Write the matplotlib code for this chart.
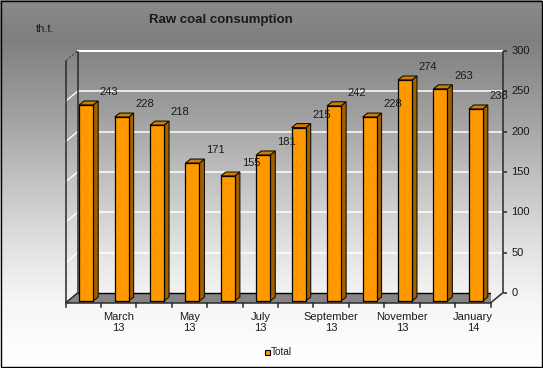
import matplotlib

matplotlib.use("Agg")
import matplotlib.pyplot as plt
import numpy as np
from matplotlib.patches import Polygon, Rectangle

months = ["February", "March", "April", "May", "June", "July", "August",
          "September", "October", "November", "December", "January"]
years = ["13", "13", "13", "13", "13", "13", "13", "13", "13", "13", "13", "14"]
total = [243, 228, 218, 171, 155, 181, 215, 242, 228, 274, 263, 238]
y_ticks = [0, 50, 100, 150, 200, 250, 300]

plt.rcParams["font.family"] = ["Liberation Sans", "DejaVu Sans"]
plt.rcParams["hatch.linewidth"] = 0.3
TEXT = "#1a1a1a"
AXIS = "#2a2a2a"

fig = plt.figure(figsize=(5.43, 3.68), dpi=100)
W, H = 543, 368

# background gradient with a light ordered dither
bg = fig.add_axes([0, 0, 1, 1], zorder=0)
levels = np.interp(np.arange(H), [0, 40, 110, 180, 250, 300, 345, 367],
                   [0.54, 0.50, 0.62, 0.76, 0.89, 0.96, 0.99, 1.0])
bayer = np.array([[0, 8, 2, 10], [12, 4, 14, 6], [3, 11, 1, 9], [15, 7, 13, 5]]) / 16 - 0.5
pattern = np.tile(bayer, (H // 4 + 1, W // 4 + 1))[:H, :W]
image = np.clip(levels[:, None] + 0.035 * pattern, 0, 1)
bg.imshow(image, cmap="gray", vmin=0, vmax=1, aspect="auto", extent=[0, W, H, 0],
          interpolation="nearest")
bg.axis("off")

# front plane of the chart box: x 65.5-490.5, y 303-61 in pixels
ax = fig.add_axes([65.5 / W, (H - 303) / H, 425 / W, 242 / H], zorder=1)
ax.patch.set_alpha(0)
ax.set_xlim(0.5, 12.5)
ax.set_ylim(0, 300)
for s in ax.spines.values():
    s.set_visible(False)
ax.set_xticks([])
ax.set_yticks([])

px = 12 / 425
py = 300 / 242
depth_x = 12 * px
depth_y = 10 * py
x0, x1 = 0.5, 12.5

# floor
ax.add_patch(Polygon([(x0, 0), (x1, 0), (x1 + depth_x, depth_y), (x0 + depth_x, depth_y)],
                     fc="#858585", ec="none", zorder=1))

# grid on back and left walls
for v in y_ticks[1:]:
    lw = 1.5 if v == 300 else 1.1
    ax.plot([x0 + depth_x, x1 + depth_x], [v + depth_y, v + depth_y], color="white",
            lw=lw, clip_on=False, zorder=2)
    if v < 300:
        ax.plot([x0, x0 + depth_x], [v, v + depth_y], color="white", lw=1.0,
                clip_on=False, zorder=2)

# box lines
line = dict(color=AXIS, lw=1.1, clip_on=False, zorder=3, solid_capstyle="butt")
ax.plot([x0, x0], [0, 300], **line)
ax.plot([x0 + depth_x, x0 + depth_x], [depth_y, 300 + depth_y], **line)
ax.plot([x1 + depth_x, x1 + depth_x], [depth_y, 300 + depth_y], **line)
ax.plot([x0, x1], [0, 0], **line)
ax.plot([x0 + depth_x, x1 + depth_x], [depth_y, depth_y], color="black", lw=1.0, zorder=3)
ax.plot([x0, x0 + depth_x], [0, depth_y], **line)
ax.plot([x1, x1 + depth_x], [0, depth_y], **line)
ax.plot([x0, x0 + depth_x], [300, 300 + depth_y], color="#555555", lw=1.0, ls=(0, (2, 1)),
        clip_on=False, zorder=3)

# bottom ticks and right value axis
for i in range(13):
    ax.plot([x0 + i, x0 + i], [0, -4 * py], color=AXIS, lw=1.1, clip_on=False, zorder=3)
for v in y_ticks:
    ax.plot([x1 + depth_x, x1 + depth_x + 4 * px], [v + depth_y, v + depth_y], **line)
    ax.annotate(str(v), (x1 + depth_x, v + depth_y), xytext=(9, 0), textcoords="offset pixels",
                fontsize=8, color=TEXT, va="center", ha="left", annotation_clip=False)

# bars
bar_w = 14 * px
bar_dx = 5 * px
bar_dy = 4 * py
for i, value in enumerate(total):
    left = i + 1 - bar_w / 2 + 3 * px
    right = left + bar_w
    base = 2 * py
    top = base + value
    ax.add_patch(Polygon([(right, base), (right + bar_dx, base + bar_dy),
                          (right + bar_dx, top + bar_dy), (right, top)],
                         fc="#a06000", ec="#1a1000", lw=0.8, zorder=4, clip_on=False))
    ax.add_patch(Polygon([(left, top), (right, top), (right + bar_dx, top + bar_dy),
                          (left + bar_dx, top + bar_dy)],
                         fc="#cc7f00", ec="#1a1000", lw=0.8, zorder=4, clip_on=False))
    ax.add_patch(Rectangle((left, base), bar_w, value, fc="#ff9900", ec="#f59000", hatch="...",
                           lw=0, zorder=5, clip_on=False))
    ax.add_patch(Rectangle((left, base), bar_w, value, fc="none", ec="black", lw=0.9,
                           zorder=5, clip_on=False))
    ax.annotate(str(value), ((left + right) / 2, top), xytext=(23, 13), textcoords="offset pixels",
                fontsize=8, color=TEXT, ha="center", va="center", zorder=6,
                annotation_clip=False)

# every second month is labelled
for i in range(1, 12, 2):
    ax.annotate(f"{months[i]}\n{years[i]}", (i + 1, 0), xytext=(0, -9), textcoords="offset pixels",
                fontsize=8, color=TEXT, ha="center", va="top", linespacing=1.1,
                annotation_clip=False)

fig.text(149 / W, 1 - 20 / H, "Raw coal consumption", fontsize=9.5, fontweight="bold",
         color=TEXT, va="center", ha="left", zorder=5)
fig.text(36 / W, 1 - 29 / H, "th.t.", fontsize=8, color=TEXT, va="center", ha="left", zorder=5)

# legend
fig.add_artist(Rectangle((264.5 / W, 1 - 355 / H), 5 / W, 5 / H, fc="#ff9900", ec="black",
                         lw=0.8, transform=fig.transFigure, zorder=5))
fig.text(271 / W, 1 - 352 / H, "Total", fontsize=7.2, color=TEXT, va="center", ha="left", zorder=5)

# outer border, white margin right and below it
fig.add_artist(Rectangle((541.5 / W, 0), 1.5 / W, 1, fc="white", ec="none",
                         transform=fig.transFigure, zorder=9))
fig.add_artist(Rectangle((0, 0), 1, 1.5 / H, fc="white", ec="none",
                         transform=fig.transFigure, zorder=9))
fig.add_artist(Rectangle((0.5 / W, 1.5 / H), 541 / W, 366 / H, fc="none", ec="black",
                         lw=1.0, transform=fig.transFigure, zorder=10))

fig.savefig("out.png", dpi=100)
plt.close(fig)
